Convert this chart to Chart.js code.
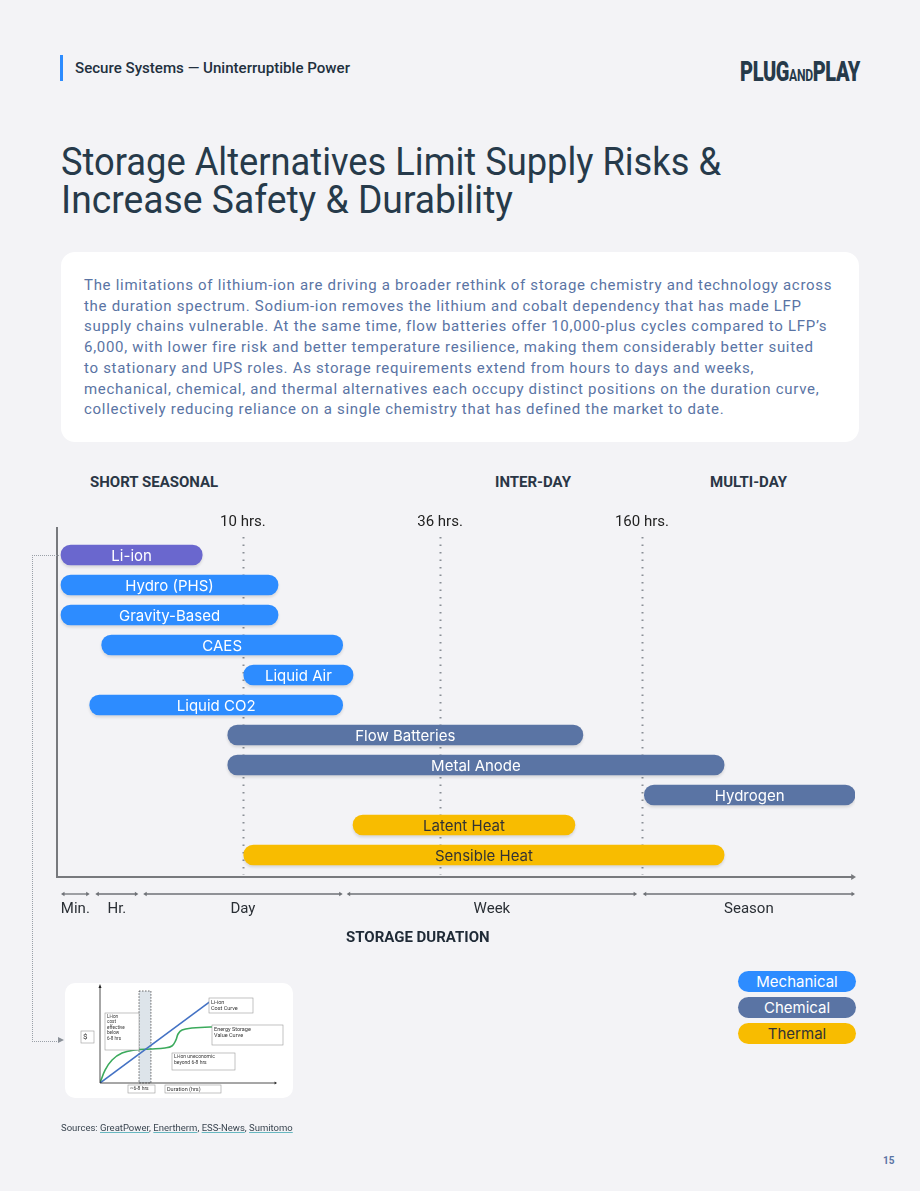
<!DOCTYPE html>
<html>
<head>
<meta charset="utf-8">
<script src="https://cdn.jsdelivr.net/npm/chart.js@4.4.1/dist/chart.umd.min.js"></script>
<style>
    body{ margin:0; background:#F3F3F6; font-family:"Roboto", sans-serif; }
    #page{ position:relative; width:920px; height:1191px; overflow:hidden; background:#F3F3F6; }
    .abs{ position:absolute; white-space:nowrap; }
    .fit{ display:inline-block; transform-origin:left center; }
    #hdrBar{ left:60px; top:55px; width:3px; height:26px; background:#2D8CFF; }
    #hdr{ left:75px; top:60px; font-size:14px; font-weight:500; color:#22303E; }
    #logo{ left:740px; top:55px; font-size:28px; font-weight:900; color:#263A4A; letter-spacing:-0.5px; }
    #logo small{ font-size:17px; font-weight:700; }
    .title{ left:61px; font-size:38px; font-weight:400; color:#263A4A; line-height:40px; }
    #box{ left:61px; top:252px; width:798px; height:190px; background:#fff; border-radius:14px; }
    .txt{ left:84px; font-size:15px; color:#5A74A4; line-height:20px; letter-spacing:0.7px; }
    .zona{ top:473px; font-size:15px; font-weight:700; color:#2A3645; }
    #duracion{ left:346px; top:928px; font-size:15px; font-weight:700; color:#1F2A36; }
    #conector{ left:32px; top:555px; width:26px; height:485px; border-left:1px dotted #9AA0A8; border-top:1px dotted #9AA0A8; border-bottom:1px dotted #9AA0A8; }
    #flecha{ left:58px; top:1037px; width:0; height:0; border-top:3.5px solid transparent; border-bottom:3.5px solid transparent; border-left:6px solid #8A9098; }
    #card{ left:65px; top:983px; width:228px; height:115px; background:#fff; border-radius:10px; }
    .pill{ left:738px; width:118px; height:21px; border-radius:11px; text-align:center; font-family:"Inter", sans-serif; font-size:15px; line-height:21px; }
    #fuentes{ left:61px; top:1122px; font-size:9.5px; color:#3A4550; }
    #fuentes u{ text-decoration-color:#67B7C0; }
    #pagina{ left:883px; top:1155px; font-size:10px; font-weight:700; color:#5A74A4; }
</style>
</head>
<body>
<div id="page">
    <div class="abs" id="hdrBar"></div>
    <div class="abs" id="hdr"><span class="fit" data-w="275">Secure Systems — Uninterruptible Power</span></div>
    <div class="abs" id="logo"><span class="fit" data-w="120">PLUG<small>AND</small>PLAY</span></div>

    <div class="abs title" style="top:142px"><span class="fit" data-w="660">Storage Alternatives Limit Supply Risks &amp;</span></div>
    <div class="abs title" style="top:180px"><span class="fit" data-w="452">Increase Safety &amp; Durability</span></div>

    <div class="abs" id="box"></div>
    <div id="texto"></div>

    <div class="abs zona" style="left:90px">SHORT SEASONAL</div>
    <div class="abs zona" style="left:495px">INTER-DAY</div>
    <div class="abs zona" style="left:710px">MULTI-DAY</div>

    <canvas id="grafico" class="abs" style="left:0;top:500px" width="920" height="460"></canvas>
    <div class="abs" id="duracion">STORAGE DURATION</div>

    <div class="abs" id="conector"></div>
    <div class="abs" id="flecha"></div>
    <div class="abs" id="card"><canvas id="mini" width="228" height="115"></canvas></div>

    <div id="leyenda"></div>

    <div class="abs" id="fuentes">Sources: <u>GreatPower</u>, <u>Enertherm</u>, <u>ESS-News</u>, <u>Sumitomo</u></div>
    <div class="abs" id="pagina">15</div>
</div>

<script>
// ---- datos del grafico (escala de posicion 0-100 sobre la curva de duracion) ----
const tecnologias = ["Li-ion", "Hydro (PHS)", "Gravity-Based", "CAES", "Liquid Air", "Liquid CO2",
                     "Flow Batteries", "Metal Anode", "Hydrogen", "Latent Heat", "Sensible Heat"];
const inicio = [0.5, 0.5, 0.5, 5.6, 23.4, 4.1, 21.4, 21.4, 73.6, 37.1, 23.4];
const fin    = [18.2, 27.7, 27.7, 35.8, 37.1, 35.8, 65.9, 83.6, 100, 64.9, 83.6];
const grupo  = ["Li-ion", "Mechanical", "Mechanical", "Mechanical", "Mechanical", "Mechanical",
                "Chemical", "Chemical", "Chemical", "Thermal", "Thermal"];

const marcas    = ["10 hrs.", "36 hrs.", "160 hrs."];
const marcasPos = [23.3, 48.0, 73.3];

const rangos      = ["Min.", "Hr.", "Day", "Week", "Season"];
const rangoInicio = [0.5, 4.8, 10.8, 36.3, 73.4];
const rangoFin    = [4.1, 10.2, 35.8, 72.7, 100];

const grupos = ["Mechanical", "Chemical", "Thermal"];

// mini grafico (costo Li-ion vs valor de almacenamiento)
const miniX       = [0, 2.9, 6.9, 12.6, 20, 28.6, 37.1, 41.1, 43.4, 44.6, 46.9, 52.6, 62.9, 80];
const miniValor   = [0, 14.4, 25.6, 33.3, 36.7, 37.8, 38.9, 41.1, 47.8, 54.4, 58.9, 61.1, 62.2, 62.2];
const miniCostoX  = [0, 64];
const miniCosto   = [0, 92];
const miniBanda   = [22.3, 29.1];

const lineasTexto = [
    "The limitations of lithium-ion are driving a broader rethink of storage chemistry and technology across",
    "the duration spectrum. Sodium-ion removes the lithium and cobalt dependency that has made LFP",
    "supply chains vulnerable. At the same time, flow batteries offer 10,000-plus cycles compared to LFP’s",
    "6,000, with lower fire risk and better temperature resilience, making them considerably better suited",
    "to stationary and UPS roles. As storage requirements extend from hours to days and weeks,",
    "mechanical, chemical, and thermal alternatives each occupy distinct positions on the duration curve,",
    "collectively reducing reliance on a single chemistry that has defined the market to date."
];

const colores = { "Li-ion":"#6A67CE", "Mechanical":"#2D8CFF", "Chemical":"#5A74A4", "Thermal":"#F8BC00" };
const colorTexto = { "Li-ion":"#fff", "Mechanical":"#fff", "Chemical":"#fff", "Thermal":"#333" };

// texto del recuadro
lineasTexto.forEach(function(l, i){
    const d = document.createElement("div");
    d.className = "abs txt";
    d.style.top = (275 + i * 20.7) + "px";
    d.textContent = l;
    document.getElementById("texto").appendChild(d);
});

// leyenda
grupos.forEach(function(g, i){
    const d = document.createElement("div");
    d.className = "abs pill";
    d.style.top = (971 + i * 26) + "px";
    d.style.background = colores[g];
    d.style.color = colorTexto[g];
    d.textContent = g;
    document.getElementById("leyenda").appendChild(d);
});

// ajustar ancho de textos con fuente distinta
document.querySelectorAll(".fit").forEach(function(el){
    const w = el.getBoundingClientRect().width;
    el.style.transform = "scaleX(" + (parseFloat(el.dataset.w) / w) + ")";
});

function flechaH(ctx, x, y, dir, t){
    ctx.beginPath();
    ctx.moveTo(x, y);
    ctx.lineTo(x - dir * t * 1.6, y - t);
    ctx.lineTo(x - dir * t * 1.6, y + t);
    ctx.closePath();
    ctx.fill();
}

const decoracion = {
    id: "decoracion",
    beforeDatasetsDraw(chart){
        const ctx = chart.ctx, a = chart.chartArea, x = chart.scales.x;
        ctx.save();
        // lineas punteadas
        ctx.strokeStyle = "#8A8F96";
        ctx.lineWidth = 2;
        ctx.setLineDash([1.5, 6]);
        marcasPos.forEach(function(v){
            const px = Math.round(x.getPixelForValue(v)) + 0.5;
            ctx.beginPath();
            ctx.moveTo(px, a.top - 3);
            ctx.lineTo(px, a.bottom + 5);
            ctx.stroke();
        });
        ctx.setLineDash([]);
        // etiquetas superiores
        ctx.fillStyle = "#222";
        ctx.font = "15px Roboto";
        ctx.textAlign = "center";
        ctx.textBaseline = "middle";
        marcas.forEach(function(m, i){
            ctx.fillText(m, x.getPixelForValue(marcasPos[i]), a.top - 18);
        });
        // ejes
        ctx.strokeStyle = "#77797D";
        ctx.fillStyle = "#77797D";
        ctx.lineWidth = 2;
        ctx.beginPath();
        ctx.moveTo(a.left, a.top - 13);
        ctx.lineTo(a.left, a.bottom + 7);
        ctx.lineTo(a.right - 2, a.bottom + 7);
        ctx.stroke();
        flechaH(ctx, a.right + 1, a.bottom + 7, 1, 3);
        // rangos de duracion
        ctx.lineWidth = 1.3;
        ctx.strokeStyle = "#6E7176";
        ctx.fillStyle = "#6E7176";
        rangos.forEach(function(r, i){
            const x0 = x.getPixelForValue(rangoInicio[i]), x1 = x.getPixelForValue(rangoFin[i]);
            const y = a.bottom + 24;
            ctx.beginPath();
            ctx.moveTo(x0 + 2, y);
            ctx.lineTo(x1 - 2, y);
            ctx.stroke();
            flechaH(ctx, x0, y, -1, 2.2);
            flechaH(ctx, x1, y, 1, 2.2);
        });
        ctx.fillStyle = "#2A2F35";
        ctx.font = "15px Roboto";
        rangos.forEach(function(r, i){
            ctx.fillText(r, (x.getPixelForValue(rangoInicio[i]) + x.getPixelForValue(rangoFin[i])) / 2, a.bottom + 39);
        });
        // sombra de barras
        ctx.restore();
        ctx.save();
        ctx.shadowColor = "rgba(0,0,0,0.12)";
        ctx.shadowBlur = 3;
        ctx.shadowOffsetY = 2;
    },
    afterDatasetsDraw(chart){
        const ctx = chart.ctx;
        ctx.restore();
        ctx.save();
        ctx.font = "15px Inter";
        ctx.textAlign = "center";
        ctx.textBaseline = "middle";
        chart.getDatasetMeta(0).data.forEach(function(bar, i){
            ctx.fillStyle = colorTexto[grupo[i]];
            ctx.fillText(tecnologias[i], (bar.x + bar.base) / 2, bar.y + 1);
        });
        ctx.restore();
    }
};

new Chart(document.getElementById("grafico"), {
    type: "bar",
    plugins: [decoracion],
    data: {
        labels: tecnologias,
        datasets: [{
            data: tecnologias.map(function(t, i){ return [inicio[i], fin[i]]; }),
            backgroundColor: grupo.map(function(g){ return colores[g]; }),
            borderRadius: 10,
            borderSkipped: false,
            barThickness: 20
        }]
    },
    options: {
        indexAxis: "y",
        responsive: false,
        animation: false,
        layout: { padding: { left: 57, right: 65, top: 40, bottom: 90 } },
        plugins: { legend: { display: false }, tooltip: { enabled: false } },
        scales: {
            x: { display: false, min: 0, max: 100 },
            y: { display: false }
        }
    }
});

// ---- mini grafico ----
function caja(ctx, x, y, w, h, lineas, fs){
    ctx.fillStyle = "#fff";
    ctx.strokeStyle = "#9A9A9A";
    ctx.lineWidth = 0.6;
    ctx.fillRect(x, y, w, h);
    ctx.strokeRect(x, y, w, h);
    ctx.fillStyle = "#333";
    ctx.font = fs + "px Roboto";
    ctx.textAlign = "left";
    ctx.textBaseline = "top";
    lineas.forEach(function(l, i){ ctx.fillText(l, x + 2, y + 1.5 + i * (fs + 0.8)); });
}

const miniDeco = {
    id: "miniDeco",
    beforeDatasetsDraw(chart){
        const ctx = chart.ctx, a = chart.chartArea, x = chart.scales.x;
        ctx.save();
        const b0 = x.getPixelForValue(miniBanda[0]), b1 = x.getPixelForValue(miniBanda[1]);
        ctx.fillStyle = "#DDE4EA";
        ctx.fillRect(b0, a.top - 2, b1 - b0, a.bottom - a.top + 2);
        ctx.strokeStyle = "#444";
        ctx.lineWidth = 0.8;
        ctx.setLineDash([1.5, 1.5]);
        ctx.strokeRect(b0, a.top - 2, b1 - b0, a.bottom - a.top + 2);
        ctx.setLineDash([]);
        ctx.restore();
    },
    afterDatasetsDraw(chart){
        const ctx = chart.ctx, a = chart.chartArea;
        ctx.save();
        ctx.strokeStyle = "#222";
        ctx.fillStyle = "#222";
        ctx.lineWidth = 0.8;
        ctx.beginPath();
        ctx.moveTo(a.left, a.top - 6);
        ctx.lineTo(a.left, a.bottom);
        ctx.lineTo(a.right, a.bottom);
        ctx.stroke();
        flechaH(ctx, a.right + 2, a.bottom, 1, 1.5);
        ctx.beginPath();
        ctx.moveTo(a.left, a.top - 9);
        ctx.lineTo(a.left - 1.5, a.top - 5);
        ctx.lineTo(a.left + 1.5, a.top - 5);
        ctx.fill();
        caja(ctx, a.left + 109, a.top + 5, 44, 15, ["Li-ion", "Cost Curve"], 5.5);
        caja(ctx, a.left + 112, a.top + 32, 71, 20, ["Energy Storage", "Value Curve"], 5.5);
        caja(ctx, a.left + 5, a.top + 20, 34, 37, ["Li-ion", "cost", "effective", "below", "6-8 hrs"], 4.6);
        caja(ctx, a.left + 72, a.top + 60, 63, 17, ["Li-ion uneconomic", "beyond 6-8 hrs"], 5);
        caja(ctx, a.left - 19, a.top + 38, 13, 12, ["$"], 8);
        caja(ctx, a.left + 28, a.bottom + 2, 27, 8, ["~6-8 hrs"], 5);
        caja(ctx, a.left + 65, a.bottom + 2, 56, 8, ["Duration (hrs)"], 5.5);
        ctx.restore();
    }
};

new Chart(document.getElementById("mini"), {
    type: "line",
    plugins: [miniDeco],
    data: {
        datasets: [
            { data: miniCostoX.map(function(v, i){ return { x: v, y: miniCosto[i] }; }), borderColor: "#4472C4", borderWidth: 1.6, pointRadius: 0 },
            { data: miniX.map(function(v, i){ return { x: v, y: miniValor[i] }; }), borderColor: "#3BAA5C", borderWidth: 1.6, pointRadius: 0, tension: 0.4 }
        ]
    },
    options: {
        responsive: false,
        animation: false,
        layout: { padding: { left: 35, right: 18, top: 10, bottom: 15 } },
        plugins: { legend: { display: false }, tooltip: { enabled: false } },
        scales: {
            x: { type: "linear", display: false, min: 0, max: 100 },
            y: { display: false, min: 0, max: 100 }
        }
    }
});
</script>
</body>
</html>
